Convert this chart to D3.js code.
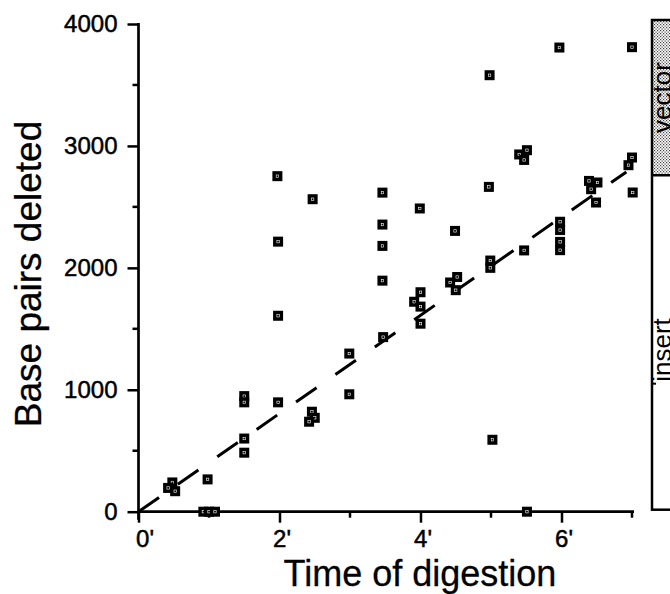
<!DOCTYPE html>
<html>
<head>
<meta charset="utf-8">
<script src="https://cdn.jsdelivr.net/npm/d3@7"></script>
<style>
  html, body { margin: 0; padding: 0; background: #fff; }
  svg { display: block; }
  text { font-family: "Liberation Sans", Arial, Helvetica, sans-serif; fill: #000; }
</style>
</head>
<body>
<svg id="chart" width="670" height="594"></svg>
<script>
// ---- data ----
const digestTime = [0.48,0.42,0.52,0.98,0.92,1.0,1.085,1.5,1.5,1.5,1.5,1.97,1.98,1.98,1.98,
  2.47,2.46,2.5,2.42,2.99,2.99,3.46,3.46,3.46,3.46,3.47,3.99,4.0,3.91,4.0,4.0,
  4.49,4.52,4.42,4.5,4.98,4.97,4.99,4.99,5.02,5.40,5.51,5.47,5.47,5.51,
  5.97,5.98,5.98,5.98,5.98,6.39,6.51,6.42,6.49,7.0,7.0,6.95,7.01];
const bpDeleted = [240,195,168,265,0,0,0,948,897,600,484,2752,2215,1607,897,
  2563,820,770,738,1297,963,2617,2355,2180,1895,1432,2487,1800,1722,1682,1542,
  2303,1925,1880,1817,3580,2664,2060,2000,590,2930,2965,2885,2143,0,
  3807,2378,2310,2213,2145,2713,2700,2645,2536,3810,2905,2842,2618];
const fitTime = [0, 6.92];
const fitBp = [0, 2787];
const xTickValues = [0, 2, 4, 6];
const xTickLabels = ["0'", "2'", "4'", "6'"];
const xMinorTicks = [1, 3, 5, 7];
const yTickValues = [0, 1000, 2000, 3000, 4000];
const yMinorTicks = [500, 1500, 2500, 3500];
const sideSegments = ["vector", "insert"];
const sideBounds = [4000, 2760, 0];   // bp positions of the side bar divisions
const sideTickBp = [1050];
const xTitle = "Time of digestion";
const yTitle = "Base pairs deleted";

// ---- layout ----
const svg = d3.select("#chart");
const x = d3.scaleLinear().domain([0, 7]).range([138.5, 632]);
const y = d3.scaleLinear().domain([0, 4000]).range([511.7, 24]);

// stipple pattern for "vector" region
const defs = svg.append("defs");
const pat = defs.append("pattern").attr("id", "stip").attr("patternUnits", "userSpaceOnUse")
  .attr("width", 3).attr("height", 3);
pat.append("rect").attr("width", 3).attr("height", 3).attr("fill", "#fff");
pat.append("rect").attr("x", 0).attr("y", 0).attr("width", 1.2).attr("height", 1.2).attr("fill", "#444");
pat.append("rect").attr("x", 1.5).attr("y", 1.5).attr("width", 1.2).attr("height", 1.2).attr("fill", "#444");

// ---- y axis ----
const yAxis = d3.axisLeft(y).tickValues(yTickValues).tickSize(11).tickPadding(10).tickSizeOuter(0)
  .tickFormat(d3.format("d"));
const gy = svg.append("g").attr("transform", `translate(${x(0)},0)`).call(yAxis);
gy.select(".domain").remove();
gy.selectAll(".tick line").attr("stroke", "#000").attr("stroke-width", 2.5);
gy.selectAll(".tick text").attr("font-size", 24).attr("font-family", "Liberation Sans, Arial, sans-serif")
  .attr("fill", "#000").attr("stroke", "#000").attr("stroke-width", 0.5);
svg.append("g").selectAll("line").data(yMinorTicks).join("line")
  .attr("x1", x(0) - 6).attr("x2", x(0)).attr("y1", d => y(d)).attr("y2", d => y(d))
  .attr("stroke", "#000").attr("stroke-width", 2.5);
svg.append("line").attr("x1", x(0)).attr("x2", x(0)).attr("y1", y(4000) - 1).attr("y2", y(0) + 8)
  .attr("stroke", "#000").attr("stroke-width", 2.7);

// ---- x axis ----
const xAxis = d3.axisBottom(x).tickValues(xTickValues).tickSize(11).tickPadding(7).tickSizeOuter(0)
  .tickFormat((d, i) => xTickLabels[i]);
const gx = svg.append("g").attr("transform", `translate(0,${y(0)})`).call(xAxis);
gx.select(".domain").remove();
gx.selectAll(".tick line").attr("stroke", "#000").attr("stroke-width", 2.5);
gx.selectAll(".tick text").attr("font-size", 24).attr("font-family", "Liberation Sans, Arial, sans-serif")
  .attr("fill", "#000").attr("stroke", "#000").attr("stroke-width", 0.5)
  .attr("dx", (d, i) => i === 0 ? 6 : 2);
svg.append("g").selectAll("line").data(xMinorTicks).join("line")
  .attr("x1", d => x(d)).attr("x2", d => x(d)).attr("y1", y(0)).attr("y2", y(0) + 6)
  .attr("stroke", "#000").attr("stroke-width", 2.5);
svg.append("line").attr("x1", x(0) - 1).attr("x2", x(7) + 2).attr("y1", y(0)).attr("y2", y(0))
  .attr("stroke", "#000").attr("stroke-width", 2.7);

// ---- titles ----
svg.append("text").attr("x", 420).attr("y", 586).attr("text-anchor", "middle")
  .attr("font-size", 36).attr("stroke", "#000").attr("stroke-width", 0.3).text(xTitle);
svg.append("text").attr("transform", "translate(41,274) rotate(-90)").attr("text-anchor", "middle")
  .attr("font-size", 37).attr("stroke", "#000").attr("stroke-width", 0.3).text(yTitle);

// ---- fit line ----
svg.append("path")
  .datum(fitTime.map((t, i) => [t, fitBp[i]]))
  .attr("d", d3.line().x(d => x(d[0])).y(d => y(d[1])))
  .attr("fill", "none").attr("stroke", "#000").attr("stroke-width", 3)
  .attr("stroke-dasharray", "25,23");

// ---- points ----
const pts = digestTime.map((t, i) => ({ t, bp: bpDeleted[i] }));
const gp = svg.append("g").selectAll("g").data(pts).join("g")
  .attr("transform", d => `translate(${x(d.t)},${y(d.bp)})`);
gp.append("rect").attr("x", -5).attr("y", -5).attr("width", 10).attr("height", 10)
  .attr("fill", "#000");
gp.append("rect").attr("x", -1.2).attr("y", -1.2).attr("width", 2.4).attr("height", 2.4)
  .attr("fill", "none").attr("stroke", "#fff").attr("stroke-width", 0.6);

// ---- side bar ----
const sideX = 652;
const sideG = svg.append("g");
sideG.append("rect").attr("x", sideX).attr("y", y(sideBounds[0]) - 4)
  .attr("width", 40).attr("height", y(sideBounds[1]) - y(sideBounds[0]) + 4)
  .attr("fill", "url(#stip)");
sideG.append("rect").attr("x", sideX).attr("y", y(sideBounds[0]) - 4)
  .attr("width", 40).attr("height", y(sideBounds[2]) - y(sideBounds[0]) + 2)
  .attr("fill", "none").attr("stroke", "#000").attr("stroke-width", 2.5);
sideG.append("line").attr("x1", sideX).attr("x2", sideX + 40)
  .attr("y1", y(sideBounds[1])).attr("y2", y(sideBounds[1]))
  .attr("stroke", "#000").attr("stroke-width", 2.5);
sideG.selectAll("line.stk").data(sideTickBp).join("line").attr("class", "stk")
  .attr("x1", sideX).attr("x2", sideX + 4).attr("y1", d => y(d)).attr("y2", d => y(d))
  .attr("stroke", "#000").attr("stroke-width", 2);
const segMid = [ (y(sideBounds[0]) + y(sideBounds[1])) / 2 - 2, 350 ];
sideG.selectAll("text").data(sideSegments).join("text")
  .attr("transform", (d, i) => `translate(671,${segMid[i]}) rotate(-90)`)
  .attr("text-anchor", "middle").attr("font-size", 26).text(d => d);
</script>
</body>
</html>
